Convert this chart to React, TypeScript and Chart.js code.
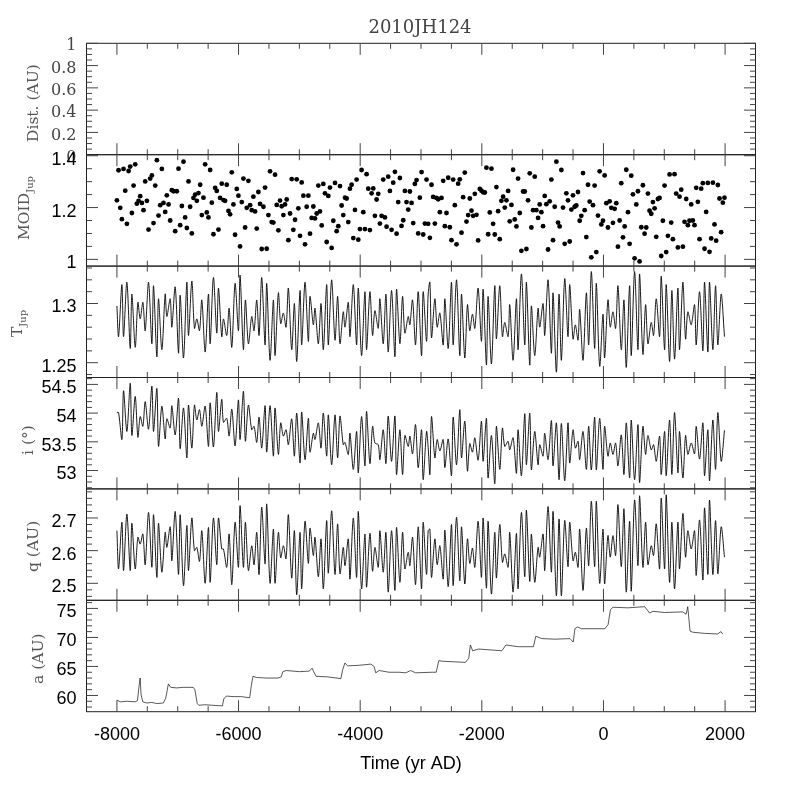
import React, { useEffect, useRef } from "react";
import { Chart, registerables } from "chart.js";

Chart.register(...registerables);

const xMajor = [-8000, -6000, -4000, -2000, 0, 2000];
const xMinor = [-7500, -7000, -6500, -5500, -5000, -4500, -3500, -3000, -2500, -1500, -1000, -500, 500, 1000, 1500];

const distMajor = [0, 0.2, 0.4, 0.6, 0.8, 1];
const distMinor = [0.05, 0.1, 0.15, 0.25, 0.3, 0.35, 0.45, 0.5, 0.55, 0.65, 0.7, 0.75, 0.85, 0.9, 0.95];
const moidMajor = [1, 1.2, 1.4];
const moidMinor = [1.05, 1.1, 1.15, 1.25, 1.3, 1.35];
const tJupMajor = [1.25, 1.3];
const tJupMinor = [1.24, 1.26, 1.27, 1.28, 1.29, 1.31, 1.32, 1.33];
const incMajor = [53, 53.5, 54, 54.5];
const incMinor = [52.7, 52.8, 52.9, 53.1, 53.2, 53.3, 53.4, 53.6, 53.7, 53.8, 53.9, 54.1, 54.2, 54.3, 54.4, 54.6];
const qMajor = [2.5, 2.6, 2.7];
const qMinor = [2.46, 2.48, 2.52, 2.54, 2.56, 2.58, 2.62, 2.64, 2.66, 2.68, 2.72, 2.74, 2.76, 2.78];
const aMajor = [60, 65, 70, 75];
const aMinor = [58, 59, 61, 62, 63, 64, 66, 67, 68, 69, 71, 72, 73, 74, 76];

const moidYears = [
	-8000, -7973, -7945, -7918, -7891, -7863, -7836, -7808, -7781, -7754, -7726, -7699, -7672, -7644, -7617, -7589, -7562, -7535, -7507, -7480,
	-7453, -7425, -7398, -7370, -7343, -7316, -7288, -7261, -7234, -7206, -7179, -7151, -7124, -7097, -7069, -7042, -7015, -6987, -6960, -6932,
	-6905, -6878, -6850, -6823, -6796, -6768, -6741, -6713, -6686, -6659, -6631, -6604, -6577, -6549, -6522, -6495, -6467, -6440, -6413, -6385,
	-6358, -6330, -6303, -6276, -6248, -6221, -6194, -6166, -6139, -6111, -6084, -6057, -6029, -6002, -5975, -5947, -5920, -5892, -5865, -5838,
	-5810, -5783, -5756, -5728, -5701, -5674, -5646, -5619, -5591, -5564, -5537, -5509, -5482, -5455, -5427, -5400, -5372, -5345, -5318, -5290,
	-5263, -5236, -5208, -5181, -5153, -5126, -5099, -5071, -5044, -5017, -4989, -4962, -4934, -4907, -4880, -4852, -4825, -4798, -4770, -4743,
	-4715, -4688, -4661, -4633, -4606, -4579, -4551, -4524, -4497, -4469, -4442, -4414, -4387, -4360, -4332, -4305, -4278, -4250, -4223, -4196,
	-4168, -4141, -4113, -4086, -4059, -4031, -4004, -3977, -3949, -3922, -3895, -3867, -3840, -3812, -3785, -3758, -3730, -3703, -3676, -3648,
	-3621, -3593, -3566, -3539, -3511, -3484, -3457, -3429, -3402, -3375, -3347, -3320, -3292, -3265, -3238, -3210, -3183, -3155, -3128, -3101,
	-3073, -3046, -3019, -2991, -2964, -2936, -2909, -2882,
	-2854, -2827, -2800, -2772, -2745, -2717, -2690, -2663, -2635, -2608, -2581, -2553, -2526, -2499, -2471, -2444, -2416, -2389, -2362, -2334,
	-2307, -2280, -2252, -2225, -2197, -2170, -2143, -2115, -2088, -2061, -2033, -2006, -1979, -1951, -1924, -1896, -1869, -1842, -1814, -1787,
	-1760, -1732, -1705, -1678, -1650, -1623, -1595, -1568, -1541, -1513, -1486, -1459, -1431, -1404, -1376, -1349, -1322, -1294, -1267, -1240,
	-1212, -1185, -1157, -1130, -1103, -1075, -1048, -1021, -993, -966, -939, -911, -884, -856, -829, -802, -774, -747, -720, -692,
	-665, -637, -610, -583, -555, -528, -501, -473, -446, -419, -391, -364, -336, -309, -282, -254, -227, -200, -172, -145,
	-117, -90, -63, -35, -8, 19, 47, 74, 102, 129, 156, 184, 211, 238, 266, 293, 321, 348, 375, 403,
	430, 457, 485, 512, 540, 567, 594, 622, 649, 676, 704, 731, 758, 786, 813, 841, 868, 895, 923, 950,
	977, 1005, 1032, 1060, 1087, 1114, 1142, 1169, 1196, 1224, 1251, 1279, 1306, 1333, 1361, 1388, 1415, 1443, 1470, 1497,
	1525, 1552, 1580, 1607, 1634, 1662, 1689, 1716, 1744, 1771, 1799, 1826, 1853, 1881, 1908, 1935, 1963, 1990,
];

const moidValues = [
	1.228, 1.344, 1.199, 1.155, 1.349, 1.265, 1.137, 1.341, 1.358, 1.179, 1.285, 1.367, 1.215, 1.226, 1.244, 1.218, 1.19, 1.301, 1.226, 1.115,
	1.312, 1.324, 1.14, 1.285, 1.383, 1.169, 1.209, 1.349, 1.218, 1.183, 1.247, 1.212, 1.15, 1.267, 1.263, 1.109, 1.263, 1.35, 1.132, 1.206,
	1.377, 1.162, 1.121, 1.301, 1.203, 1.1, 1.237, 1.25, 1.226, 1.256, 1.288, 1.171, 1.238, 1.367, 1.181, 1.162, 1.345, 1.219, 1.097, 1.276,
	1.264, 1.115, 1.237, 1.292, 1.229, 1.226, 1.288, 1.187, 1.174, 1.336, 1.212, 1.095, 1.272, 1.246, 1.05, 1.221, 1.312, 1.123, 1.199, 1.303,
	1.209, 1.19, 1.242, 1.185, 1.119, 1.26, 1.214, 1.04, 1.203, 1.277, 1.041, 1.171, 1.34, 1.144, 1.142, 1.327, 1.21, 1.112, 1.227, 1.205,
	1.171, 1.212, 1.231, 1.074, 1.177, 1.31, 1.114, 1.153, 1.309, 1.197, 1.091, 1.297, 1.246, 1.058, 1.203, 1.246, 1.099, 1.16, 1.204, 1.158,
	1.177, 1.285, 1.185, 1.131, 1.291, 1.255, 1.067, 1.245, 1.277, 1.044, 1.149, 1.295, 1.109, 1.128, 1.283, 1.208, 1.171, 1.238, 1.235, 1.144,
	1.273, 1.288, 1.082, 1.191, 1.308, 1.076, 1.117, 1.345, 1.182, 1.117, 1.329, 1.273, 1.113, 1.255, 1.274, 1.168, 1.231, 1.253, 1.138, 1.168,
	1.308, 1.162, 1.126, 1.319, 1.264, 1.114, 1.296, 1.338, 1.099, 1.221, 1.314, 1.129, 1.151, 1.264, 1.221, 1.192, 1.262, 1.218, 1.14, 1.291,
	1.306, 1.1, 1.238, 1.337, 1.096, 1.138, 1.308, 1.137,
	1.083, 1.288, 1.241, 1.138, 1.237, 1.232, 1.182, 1.237, 1.303, 1.128, 1.179, 1.315, 1.124, 1.074, 1.308, 1.209, 1.058, 1.292, 1.309, 1.103,
	1.24, 1.335, 1.146, 1.171, 1.235, 1.188, 1.168, 1.253, 1.172, 1.073, 1.272, 1.265, 1.259, 1.258, 1.354, 1.097, 1.181, 1.35, 1.137, 1.096,
	1.279, 1.186, 1.078, 1.226, 1.242, 1.2, 1.228, 1.264, 1.147, 1.21, 1.346, 1.154, 1.127, 1.312, 1.179, 1.033, 1.262, 1.262, 1.04, 1.228,
	1.332, 1.123, 1.19, 1.319, 1.19, 1.16, 1.212, 1.182, 1.128, 1.245, 1.213, 1.038, 1.224, 1.308, 1.074, 1.203, 1.377, 1.142, 1.127, 1.345,
	1.2, 1.06, 1.255, 1.228, 1.069, 1.192, 1.247, 1.203, 1.208, 1.26, 1.149, 1.168, 1.333, 1.19, 1.086, 1.288, 1.223, 1.008, 1.209, 1.285,
	1.028, 1.169, 1.34, 1.135, 1.149, 1.324, 1.217, 1.123, 1.224, 1.199, 1.141, 1.195, 1.217, 1.049, 1.15, 1.294, 1.085, 1.127, 1.346, 1.182,
	1.06, 1.323, 1.251, 1.004, 1.212, 1.263, 0.992, 1.124, 1.286, 1.099, 1.123, 1.254, 1.188, 1.176, 1.221, 1.197, 1.087, 1.233, 1.237, 1.013,
	1.149, 1.285, 1.028, 1.091, 1.328, 1.142, 1.078, 1.329, 1.254, 1.046, 1.242, 1.269, 1.049, 1.145, 1.233, 1.132, 1.149, 1.212, 1.15, 1.132,
	1.276, 1.222, 1.078, 1.273, 1.294, 1.041, 1.183, 1.295, 1.029, 1.081, 1.296, 1.135, 1.072, 1.287, 1.235, 1.105, 1.219, 1.238,
];

// turning points of the oscillating elements, shared by T_Jup, i and q
const swingYears = [
	-8000, -7973, -7918, -7891, -7836, -7781, -7754, -7699, -7655, -7617, -7573, -7535, -7480, -7425, -7398, -7343, -7316, -7261, -7206, -7179,
	-7124, -7097, -7042, -6987, -6960, -6905, -6850, -6823, -6768, -6725, -6686, -6642, -6604, -6549, -6495, -6467, -6413, -6358, -6330, -6276,
	-6248, -6194, -6155, -6111, -6057, -6002, -5975, -5920, -5887, -5838, -5783, -5745, -5701, -5663, -5619, -5564, -5537, -5482, -5427, -5400,
	-5345, -5307, -5263, -5219, -5181, -5126, -5082, -5044, -4989, -4962, -4907, -4852, -4825, -4770, -4743, -4688, -4644, -4606, -4551, -4524,
	-4469, -4414, -4371, -4332, -4278, -4250, -4196, -4168, -4113, -4059, -4031, -3977, -3922, -3895, -3840, -3796, -3758, -3703, -3676, -3621,
	-3577, -3539, -3484, -3429, -3402, -3347, -3303, -3265, -3210, -3183, -3139, -3090, -3046, -2991, -2964, -2909, -2882,
	-2854, -2827, -2772, -2734, -2690, -2635, -2608, -2553, -2499, -2471, -2416, -2362, -2334, -2280, -2236, -2198, -2154, -2115, -2061, -2006,
	-1979, -1924, -1897, -1842, -1787, -1760, -1705, -1661, -1623, -1568, -1541, -1486, -1431, -1404, -1349, -1294, -1267, -1212, -1185, -1130,
	-1075, -1048, -993, -966, -911, -856, -829, -774, -730, -692, -637, -583, -555, -500, -462, -418, -391, -336, -281, -243,
	-199, -145, -117, -62, -8, 19, 74, 112, 156, 200, 238, 293, 337, 375, 430, 457, 512, 567, 594, 649,
	693, 731, 786, 824, 868, 923, 950, 1005, 1032, 1087, 1125, 1169, 1224, 1251, 1306, 1350, 1388, 1443, 1498, 1525,
	1580, 1635, 1662, 1717, 1744, 1799, 1843, 1881, 1936, 1990,
];

const tJupValues = [
	1.298, 1.272, 1.316, 1.272, 1.318, 1.262, 1.308, 1.263, 1.301, 1.287, 1.301, 1.277, 1.318, 1.266, 1.315, 1.255, 1.304, 1.261, 1.308, 1.289,
	1.304, 1.28, 1.314, 1.258, 1.307, 1.254, 1.318, 1.273, 1.319, 1.279, 1.287, 1.277, 1.303, 1.259, 1.308, 1.266, 1.322, 1.275, 1.313, 1.272,
	1.287, 1.273, 1.296, 1.263, 1.317, 1.277, 1.324, 1.261, 1.303, 1.266, 1.289, 1.277, 1.303, 1.273, 1.322, 1.265, 1.317, 1.252, 1.303, 1.256,
	1.309, 1.283, 1.292, 1.28, 1.313, 1.261, 1.3, 1.251, 1.311, 1.265, 1.318, 1.268, 1.306, 1.282, 1.296, 1.266, 1.3, 1.261, 1.316, 1.265,
	1.32, 1.269, 1.306, 1.266, 1.293, 1.28, 1.301, 1.272, 1.316, 1.265, 1.313, 1.256, 1.31, 1.261, 1.31, 1.273, 1.294, 1.279, 1.304, 1.266,
	1.308, 1.259, 1.311, 1.255, 1.312, 1.266, 1.306, 1.275, 1.289, 1.282, 1.303, 1.265, 1.31, 1.256, 1.31, 1.268, 1.308,
	1.318, 1.271, 1.304, 1.28, 1.292, 1.265, 1.304, 1.262, 1.318, 1.265, 1.32, 1.256, 1.308, 1.254, 1.299, 1.277, 1.291, 1.279, 1.313, 1.268,
	1.312, 1.248, 1.306, 1.249, 1.315, 1.27, 1.315, 1.272, 1.284, 1.272, 1.299, 1.252, 1.304, 1.261, 1.325, 1.265, 1.318, 1.248, 1.298, 1.256,
	1.296, 1.28, 1.3, 1.273, 1.32, 1.258, 1.309, 1.242, 1.308, 1.252, 1.321, 1.272, 1.316, 1.27, 1.282, 1.269, 1.295, 1.252, 1.309, 1.265,
	1.327, 1.262, 1.317, 1.247, 1.291, 1.254, 1.303, 1.28, 1.293, 1.279, 1.315, 1.261, 1.303, 1.246, 1.315, 1.256, 1.327, 1.261, 1.325, 1.257,
	1.299, 1.266, 1.284, 1.273, 1.304, 1.272, 1.323, 1.261, 1.316, 1.251, 1.311, 1.253, 1.313, 1.261, 1.318, 1.27, 1.293, 1.282, 1.299, 1.265,
	1.31, 1.26, 1.318, 1.259, 1.318, 1.261, 1.315, 1.265, 1.308, 1.272,
];

const incValues = [
	54.01, 54.01, 53.54, 54.39, 53.68, 54.52, 53.61, 54.29, 53.58, 53.94, 53.77, 54.2, 53.72, 54.47, 53.68, 54.43, 53.42, 54.12, 53.55, 53.9,
	53.74, 54.13, 53.62, 54.26, 53.38, 54.09, 53.22, 54.14, 53.39, 54.14, 53.88, 54.06, 53.77, 54.12, 53.42, 54.18, 53.41, 54.36, 53.68, 54.24,
	53.84, 53.91, 53.6, 54.07, 53.43, 54.23, 53.54, 54.38, 53.51, 54.14, 53.71, 53.77, 53.49, 53.93, 53.39, 54.13, 53.32, 54.13, 53.25, 54.09,
	53.28, 53.83, 53.6, 53.71, 53.45, 53.9, 53.25, 54.0, 53.13, 54.02, 53.19, 53.91, 53.32, 53.65, 53.54, 53.83, 53.39, 54.0, 53.25, 53.97,
	53.1, 53.97, 53.22, 53.95, 53.45, 53.49, 53.28, 53.65, 53.02, 53.68, 52.96, 53.94, 53.08, 54.03, 53.12, 53.77, 53.48, 53.45, 53.19, 53.71,
	53.12, 53.95, 53.16, 53.95, 52.93, 53.71, 52.93, 53.61, 53.42, 53.6, 53.29, 53.8, 53.05, 53.71, 52.84, 53.68, 53.4,
	52.93, 53.94, 53.22, 53.54, 53.34, 53.54, 53.05, 53.55, 52.91, 53.93, 53.1, 54.06, 53.22, 53.86, 52.99, 53.47, 53.32, 53.57, 53.18, 53.86,
	53.16, 53.91, 52.87, 53.61, 52.77, 53.77, 53.02, 53.74, 53.42, 53.51, 53.36, 53.57, 52.95, 53.71, 52.91, 53.99, 53.1, 54.0, 53.01, 53.68,
	53.1, 53.45, 53.25, 53.65, 53.19, 53.87, 53.08, 53.83, 52.84, 53.82, 52.82, 53.83, 53.13, 53.71, 53.39, 53.51, 53.19, 53.68, 53.02, 53.77,
	53.01, 53.93, 53.01, 53.91, 53.02, 53.77, 53.25, 53.48, 53.28, 53.48, 53.08, 53.62, 52.93, 53.83, 52.87, 53.88, 52.84, 53.8, 52.79, 53.77,
	53.28, 53.61, 53.36, 53.45, 53.16, 53.6, 52.93, 53.68, 52.91, 53.88, 52.93, 54.01, 52.96, 53.68, 52.87, 53.61, 53.28, 53.48, 53.29, 53.77,
	53.2, 53.83, 52.91, 53.71, 52.82, 53.88, 53.02, 54.01, 53.16, 53.7,
];

const qValues = [
	2.661, 2.544, 2.687, 2.539, 2.712, 2.539, 2.684, 2.544, 2.641, 2.62, 2.651, 2.557, 2.717, 2.549, 2.71, 2.518, 2.684, 2.534, 2.656, 2.61,
	2.673, 2.569, 2.72, 2.527, 2.71, 2.493, 2.677, 2.539, 2.7, 2.6, 2.61, 2.567, 2.661, 2.5, 2.671, 2.503, 2.7, 2.557, 2.7, 2.605,
	2.605, 2.549, 2.651, 2.496, 2.687, 2.549, 2.738, 2.549, 2.687, 2.539, 2.615, 2.557, 2.656, 2.527, 2.733, 2.559, 2.743, 2.5, 2.666, 2.5,
	2.656, 2.578, 2.615, 2.575, 2.71, 2.516, 2.661, 2.465, 2.656, 2.483, 2.69, 2.561, 2.669, 2.585, 2.641, 2.52, 2.636, 2.483, 2.692, 2.531,
	2.722, 2.527, 2.682, 2.529, 2.61, 2.554, 2.636, 2.513, 2.7, 2.518, 2.72, 2.483, 2.651, 2.488, 2.653, 2.537, 2.61, 2.549, 2.661, 2.534,
	2.656, 2.473, 2.661, 2.478, 2.671, 2.503, 2.656, 2.544, 2.595, 2.554, 2.641, 2.496, 2.673, 2.483, 2.687, 2.527, 2.661,
	2.666, 2.518, 2.636, 2.557, 2.615, 2.513, 2.663, 2.49, 2.68, 2.493, 2.702, 2.508, 2.673, 2.498, 2.636, 2.561, 2.608, 2.549, 2.69, 2.518,
	2.7, 2.485, 2.69, 2.467, 2.656, 2.516, 2.68, 2.564, 2.59, 2.549, 2.656, 2.473, 2.653, 2.483, 2.717, 2.52, 2.724, 2.506, 2.651, 2.503,
	2.61, 2.58, 2.651, 2.539, 2.735, 2.534, 2.72, 2.462, 2.697, 2.462, 2.692, 2.551, 2.687, 2.569, 2.595, 2.549, 2.666, 2.478, 2.669, 2.554,
	2.751, 2.551, 2.751, 2.5, 2.666, 2.498, 2.646, 2.58, 2.646, 2.585, 2.741, 2.551, 2.728, 2.473, 2.69, 2.476, 2.755, 2.554, 2.768, 2.549,
	2.687, 2.557, 2.615, 2.585, 2.682, 2.544, 2.761, 2.544, 2.771, 2.503, 2.687, 2.483, 2.687, 2.544, 2.714, 2.58, 2.661, 2.605, 2.661, 2.524,
	2.694, 2.51, 2.731, 2.527, 2.755, 2.527, 2.692, 2.529, 2.673, 2.58,
];

const aYears = [
	-8000, -7945, -7836, -7700, -7662, -7634, -7618, -7602, -7574, -7509, -7427, -7345, -7236, -7198, -7176, -7154, -7116, -7018, -6909, -6745,
	-6718, -6679, -6652, -6554, -6417, -6265, -6243, -6199, -6090, -5954, -5817, -5790, -5763, -5708, -5544, -5353, -5299, -5272, -5217, -4999,
	-4835, -4791, -4726, -4535, -4317, -4289, -4251, -4207, -4016, -3825, -3771, -3744, -3689, -3525, -3361, -3252, -3170, -3089, -2816, -2750,
	-2707, -2652, -2270, -2215, -2188, -2150, -2051, -1670, -1604, -1397, -1151, -1113, -1014, -796, -551, -497, -469, -426, -360, 22,
	76, 115, 158, 404, 677, 759, 813, 1004, 1305, 1359, 1386, 1424, 1468, 1659, 1877, 1932, 1959,
];

const aValues = [
	59.2, 58.9, 59.0, 58.9, 59.1, 61.8, 63.0, 60.1, 58.9, 58.7, 58.8, 58.6, 58.7, 59.5, 60.7, 62.0, 61.4, 61.3, 61.4, 61.4,
	61.0, 58.6, 58.3, 58.4, 58.3, 58.2, 59.4, 59.9, 59.8, 59.8, 59.6, 61.7, 63.3, 63.1, 63.0, 63.0, 63.2, 64.1, 64.3, 64.1,
	64.2, 64.7, 63.3, 63.2, 62.9, 64.4, 65.6, 65.1, 65.2, 65.4, 65.0, 63.9, 64.3, 64.0, 64.0, 63.9, 64.3, 63.9, 64.0, 64.0,
	66.0, 65.9, 65.7, 66.4, 68.7, 67.7, 68.0, 67.7, 68.7, 68.4, 68.4, 70.2, 69.8, 69.7, 69.8, 69.2, 71.5, 71.8, 71.5, 71.5,
	72.2, 74.8, 75.2, 75.1, 75.3, 74.2, 74.5, 74.3, 74.4, 74.0, 75.3, 71.1, 70.9, 70.7, 70.6, 71.0, 70.6,
];

const pairs = (xs: number[], ys: number[]) => xs.map((x, i) => ({ x, y: ys[i] }));

const SERIF = '"DejaVu Serif"';
const SANS = '"Liberation Sans"';

const yAxis = (weight: number, min: number, max: number, major: number[], font: any, color: string, labelOffset: number) => ({
	axis: "y",
	type: "linear",
	position: "left",
	stack: "panels",
	stackWeight: 1,
	weight,
	min,
	max,
	grid: { display: false, drawTicks: false },
	border: { display: false },
	afterBuildTicks: (scale: any) => {
		scale.ticks = major.map((value) => ({ value }));
	},
	afterFit: (scale: any) => {
		scale.width = 86.5;
	},
	ticks: {
		autoSkip: false,
		padding: 10,
		labelOffset,
		font,
		color,
		callback: (v: number) => String(v),
	},
});

// y axis titles: text, subscript, x of the baseline, y of the text's start
const yTitles: [string, string, number, number][] = [
	["Dist. (AU)", "", 38, 142],
	["MOID", "Jup", 29, 240],
	["T", "Jup", 22, 337],
	["i (°)", "", 33, 455],
	["q (AU)", "", 38, 572],
	["a (AU)", "", 43, 684],
];

const panelMinors: [string, number[], number[]][] = [
	["yDist", distMajor, distMinor],
	["yMoid", moidMajor, moidMinor],
	["yTJup", tJupMajor, tJupMinor],
	["yInc", incMajor, incMinor],
	["yQ", qMajor, qMinor],
	["yA", aMajor, aMinor],
];

const framePlugin = {
	id: "frame",
	afterDatasetsDraw(chart: any) {
		const { ctx, chartArea, scales } = chart;
		const x = scales.x;
		const { left, right } = chartArea;
		ctx.save();
		ctx.strokeStyle = "#222";
		ctx.lineWidth = 1;
		const seg = (x0: number, y0: number, x1: number, y1: number) => {
			ctx.beginPath();
			ctx.moveTo(x0, y0);
			ctx.lineTo(x1, y1);
			ctx.stroke();
		};
		for (const [id, major, minor] of panelMinors) {
			const s = scales[id];
			ctx.strokeStyle = "#222";
			ctx.strokeRect(left, s.top, right - left, s.bottom - s.top);
			ctx.strokeStyle = "#444";
			for (const [vals, len] of [[major, 11.5], [minor, 5.5]] as [number[], number][]) {
				for (const v of vals) {
					const p = s.getPixelForValue(v);
					if (p < s.top - 0.5 || p > s.bottom + 0.5) continue;
					seg(left, p, left + len, p);
					seg(right, p, right - len, p);
				}
			}
			for (const [vals, len] of [[xMajor, 11.5], [xMinor, 5.5]] as [number[], number][]) {
				for (const v of vals) {
					const p = x.getPixelForValue(v);
					seg(p, s.top, p, s.top + len);
					seg(p, s.bottom, p, s.bottom - len);
				}
			}
		}
		// axis titles
		ctx.fillStyle = "#444";
		ctx.textAlign = "center";
		ctx.textBaseline = "alphabetic";
		ctx.font = `18px ${SERIF}`;
		ctx.fillText("2010JH124", 420, 33);
		ctx.fillStyle = "#000";
		ctx.font = `18px ${SANS}`;
		ctx.fillText("Time (yr AD)", 411, 769);
		ctx.textAlign = "left";
		ctx.fillStyle = "#555";
		for (const [text, sub, bx, by] of yTitles) {
			ctx.save();
			ctx.translate(bx, by);
			ctx.rotate(-Math.PI / 2);
			ctx.font = `15.5px ${SERIF}`;
			ctx.fillText(text, 0, 0);
			if (sub) {
				const w = ctx.measureText(text).width;
				ctx.font = `10px ${SERIF}`;
				ctx.fillText(sub, w, 4);
			}
			ctx.restore();
		}
		ctx.restore();
	},
};

const lineStyle = { borderColor: "#111", borderWidth: 0.7, pointRadius: 0, tension: 0, fill: false };
const swingStyle = { ...lineStyle, borderColor: "#000", borderWidth: 0.9, tension: 0.3 };

const App: React.FC = () => {
	const canvasRef = useRef<HTMLCanvasElement>(null);

	useEffect(() => {
		if (!canvasRef.current) return;
		const sansTicks = { family: SANS, size: 18 };
		const chart = new Chart(canvasRef.current, {
			type: "line",
			data: {
				datasets: [
					{
						label: "MOID",
						data: pairs(moidYears, moidValues),
						yAxisID: "yMoid",
						showLine: false,
						pointRadius: 2.4,
						pointBackgroundColor: "#000",
						pointBorderWidth: 0,
					},
					{ label: "TJup", data: pairs(swingYears, tJupValues), yAxisID: "yTJup", ...swingStyle },
					{ label: "i", data: pairs(swingYears, incValues), yAxisID: "yInc", ...swingStyle },
					{ label: "q", data: pairs(swingYears, qValues), yAxisID: "yQ", ...swingStyle },
					{ label: "a", data: pairs(aYears, aValues), yAxisID: "yA", ...lineStyle },
				],
			} as any,
			options: {
				responsive: false,
				animation: false,
				devicePixelRatio: 1,
				layout: { padding: { top: 43.3, right: 41.5, left: 0, bottom: 0 } },
				plugins: { legend: { display: false }, title: { display: false }, tooltip: { enabled: false } },
				scales: {
					x: {
						type: "linear",
						min: -8500,
						max: 2500,
						grid: { display: false, drawTicks: false },
						border: { display: false },
						afterBuildTicks: (scale: any) => {
							scale.ticks = xMajor.map((value) => ({ value }));
						},
						afterFit: (scale: any) => {
							scale.height = 85.3;
						},
						ticks: {
							autoSkip: false,
							maxRotation: 0,
							padding: 13,
							font: sansTicks,
							color: "#000",
							callback: (v: number) => String(v),
						},
					},
					yDist: yAxis(6, 0, 1, distMajor, { family: SERIF, size: 16 }, "#444", 3),
					yMoid: yAxis(5, 0.974, 1.404, moidMajor, sansTicks, "#000", 4),
					yTJup: yAxis(4, 1.2375, 1.3316, tJupMajor, sansTicks, "#000", 4),
					yInc: yAxis(3, 52.68, 54.62, incMajor, sansTicks, "#000", 4),
					yQ: yAxis(2, 2.448, 2.789, qMajor, sansTicks, "#000", 4),
					yA: yAxis(1, 57.2, 76.4, aMajor, sansTicks, "#000", 4),
				},
			} as any,
			plugins: [framePlugin],
		});
		return () => chart.destroy();
	}, []);

	return (
		<div style={{ position: "absolute", left: 0, top: 0, background: "#fff" }}>
			<canvas ref={canvasRef} width={797} height={797} style={{ display: "block" }} />
		</div>
	);
};

export default App;
